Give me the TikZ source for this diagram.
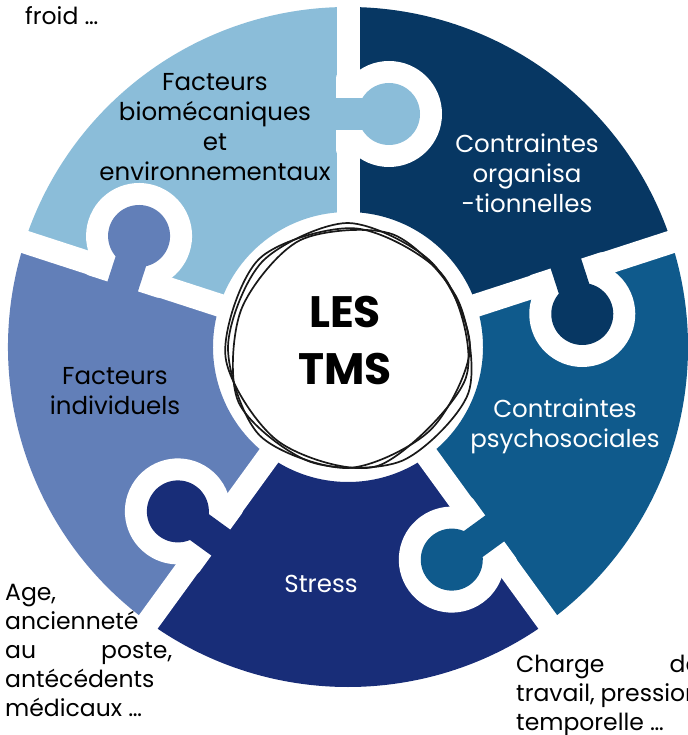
\documentclass[tikz,border=0pt]{standalone}
\usepackage{fontspec}
\setmainfont{Poppins}
\definecolor{bioblue}{HTML}{8BBDD9}
\definecolor{indblue}{HTML}{627FB8}
\definecolor{stressblue}{HTML}{182D78}
\definecolor{psyblue}{HTML}{0F5A8C}
\definecolor{orgblue}{HTML}{073763}

\begin{document}
\begin{tikzpicture}[x=1pt,y=1pt,
        piece text/.style={align=center,inner sep=0pt,font=\fontsize{24.5}{30}\selectfont},
        side text/.style={anchor=north west,inner sep=0pt,align=justify,font=\fontsize{23.5}{29}\selectfont},
        scribble/.style={line width=1.7pt,black!90}]
      \useasboundingbox (-348,-388) rectangle (339,347);

      % les cinq pieces
      \foreach \a/\col in {90/bioblue,162/indblue,234/stressblue,306/psyblue,18/orgblue}
        \fill[\col] (\a:135pt) arc[start angle=\a,delta angle=72,radius=135pt]
          -- ({\a+72}:340pt) arc[start angle=\a+72,delta angle=-72,radius=340pt] -- cycle;

      \foreach \a in {18,90,...,306}
        \draw[white,line width=23pt] (\a:120pt) -- (\a:350pt);

      % les tenons
      \foreach \a/\col in {90/bioblue,162/indblue,234/stressblue,306/psyblue,18/orgblue}{
        \begin{scope}[rotate=\a-90]
          \fill[white] (41,233) circle[radius=53pt];
          \fill[white,rounded corners=6pt] (-12,191) -- (41,191) -- (41,275) -- (-12,275) -- cycle;
          \fill[\col] (41,233) circle[radius=31pt];
          \fill[\col] (-14,217) -- (41,217) -- (41,249) -- (-14,249) -- cycle;
        \end{scope}}

      % le cercle central
      \draw[scribble] plot[smooth cycle] coordinates {(0:122pt) (45:119pt) (90:124pt) (135:121pt) (180:120pt) (225:125pt) (270:121pt) (315:117pt)};
      \begin{scope}[shift={(3,-3)},rotate=25]
        \draw[scribble] plot[smooth cycle] coordinates {(0:118pt) (45:123pt) (90:121pt) (135:117pt) (180:124pt) (225:119pt) (270:122pt) (315:125pt)};
      \end{scope}
      \begin{scope}[shift={(-2,1)},rotate=-15]
        \draw[scribble] plot[smooth cycle] coordinates {(0:124pt) (50:120pt) (100:118pt) (150:123pt) (200:121pt) (250:117pt) (300:124pt)};
      \end{scope}

      \node[font=\fontsize{44}{57}\selectfont\bfseries,align=center,inner sep=0pt] (tms) at (-3,7) {LES\\TMS};

      \node[piece text] (bio) at (-133,220) {Facteurs\\biomécaniques\\et\\environnementaux};
      \node[piece text,white] (org) at (179,174) {Contraintes\\organisa\\-tionnelles};
      \node[piece text,white] (psy) at (217,-79) {Contraintes\\psychosociales};
      \node[piece text] (ind) at (-233,-44) {Facteurs\\individuels};
      \node[piece text,white] (stress) at (-27,-237) {Stress};

      \node[anchor=west,inner sep=0pt,font=\fontsize{23.5}{29}\selectfont] (froid) at (-323,331) {froid …};
      \node[side text,text width=167pt] (age) at (-343,-237)
        {Age,\linebreak ancienneté\linebreak au poste,\linebreak antécédents\linebreak médicaux …};
      \node[side text,text width=184pt] (charge) at (168,-308)
        {Charge de\linebreak travail, pression\linebreak temporelle …};
\end{tikzpicture}
\end{document}
